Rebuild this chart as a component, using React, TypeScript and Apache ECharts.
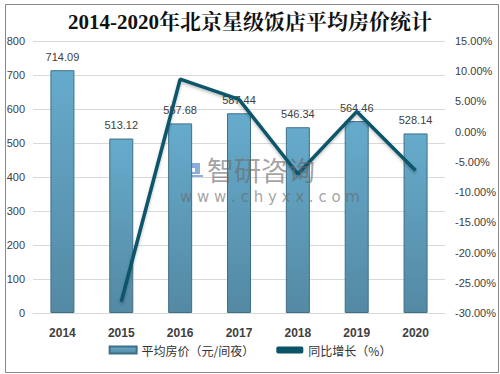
import React, { useEffect, useRef } from "react";
import * as echarts from "echarts";

const categories = ["2014", "2015", "2016", "2017", "2018", "2019", "2020"];
const priceValues = [714.09, 513.12, 557.68, 587.44, 546.34, 564.46, 528.14];
const growthValues: (number | null)[] = [null, -28.14, 8.68, 5.34, -7.0, 3.32, -6.43];
const leftTicks = { min: 0, max: 800, interval: 100 };
const rightTicks = { min: -30, max: 15, interval: 5 };

export default function App() {
  const ref = useRef<HTMLDivElement>(null);
  useEffect(() => {
    if (!ref.current) return;
    const chart = echarts.init(ref.current, undefined, { renderer: "svg" });
    const cjk = "'Liberation Sans', 'Noto Sans CJK SC', sans-serif";
    const wm = "rgba(105,105,105,0.62)";
    const logo = "rgba(100,145,210,0.75)";
    chart.setOption({
      animation: false,
      backgroundColor: "#ffffff",
      title: {
        text: "2014-2020年北京星级饭店平均房价统计",
        left: "center",
        top: 6,
        textStyle: {
          fontFamily: "'Liberation Serif', 'Noto Serif CJK SC', 'Noto Sans CJK SC', serif",
          fontSize: 21,
          fontWeight: "bold",
          color: "#111111",
        },
      },
      grid: { left: 33, right: 55, top: 41, bottom: 61 },
      legend: {
        bottom: 13,
        left: "center",
        itemGap: 22,
        itemWidth: 27,
        itemHeight: 7,
        textStyle: { fontFamily: "'Noto Sans CJK SC', sans-serif", fontSize: 12, color: "#333333" },
        data: [
          { name: "平均房价（元/间夜）", icon: "rect" },
          { name: "同比增长（%）", icon: "roundRect" },
        ],
      },
      xAxis: {
        type: "category",
        data: categories,
        axisLine: { lineStyle: { color: "#d9d9d9" } },
        axisTick: { show: false },
        axisLabel: {
          fontFamily: cjk,
          fontSize: 12,
          fontWeight: "bold",
          color: "#404040",
          margin: 14,
        },
      },
      yAxis: [
        {
          type: "value",
          min: leftTicks.min,
          max: leftTicks.max,
          interval: leftTicks.interval,
          axisLine: { show: false },
          axisTick: { show: false },
          splitLine: { lineStyle: { color: "#d9d9d9" } },
          axisLabel: { fontFamily: cjk, fontSize: 11, color: "#404040", margin: 8 },
        },
        {
          type: "value",
          min: rightTicks.min,
          max: rightTicks.max,
          interval: rightTicks.interval,
          axisLine: { show: false },
          axisTick: { show: false },
          splitLine: { show: false },
          axisLabel: {
            fontFamily: cjk,
            fontSize: 11,
            color: "#404040",
            margin: 10,
            formatter: (v: number) => v.toFixed(2) + "%",
          },
        },
      ],
      series: [
        {
          name: "平均房价（元/间夜）",
          type: "bar",
          data: priceValues,
          barWidth: 24,
          itemStyle: {
            color: new echarts.graphic.LinearGradient(0, 0, 0, 1, [
              { offset: 0, color: "#66abcc" },
              { offset: 1, color: "#5489a3" },
            ]),
            borderColor: "#3f6f86",
            borderWidth: 1,
          },
          label: {
            show: true,
            position: "top",
            distance: 8,
            fontFamily: cjk,
            fontSize: 11,
            color: "#404040",
            formatter: (p: any) => p.value.toFixed(2),
          },
        },
        {
          name: "同比增长（%）",
          type: "line",
          yAxisIndex: 1,
          data: growthValues,
          symbol: "none",
          lineStyle: {
            color: "#0b5468",
            width: 3.5,
            shadowColor: "rgba(0,0,0,0.25)",
            shadowBlur: 3,
            shadowOffsetY: 2,
          },
          itemStyle: { color: "#0b5468" },
          z: 3,
        },
      ],
      graphic: [
        {
          type: "rect",
          left: 3,
          top: 2,
          shape: { width: 493, height: 368 },
          style: { fill: "none", stroke: "#888888", lineWidth: 1 },
          silent: true,
        },
        {
          type: "group",
          left: 181,
          top: 163,
          z: 10,
          children: [
            { type: "rect", shape: { x: 0, y: 0, width: 5, height: 15 }, style: { fill: logo } },
            { type: "rect", shape: { x: 6, y: 0, width: 13, height: 5 }, style: { fill: logo } },
            { type: "rect", shape: { x: 14, y: 5, width: 5, height: 4 }, style: { fill: logo } },
            { type: "rect", shape: { x: 6, y: 9, width: 13, height: 2 }, style: { fill: logo } },
            { type: "rect", shape: { x: 6, y: 12, width: 16, height: 3 }, style: { fill: logo } },
          ],
        },
        {
          type: "text",
          left: 207,
          top: 156,
          z: 10,
          style: {
            text: "智研咨询",
            fontFamily: "'Noto Sans CJK SC', sans-serif",
            fontSize: 27,
            fill: wm,
          },
        },
        {
          type: "text",
          left: 180,
          top: 189,
          z: 10,
          style: {
            text: "w w w . c h y x x . c o m",
            fontFamily: "'DejaVu Sans', sans-serif",
            fontSize: 15,
            fill: wm,
          },
        },
      ],
    });
    return () => chart.dispose();
  }, []);
  return <div ref={ref} style={{ width: 500, height: 374, position: "absolute", left: 0, top: 0 }} />;
}
